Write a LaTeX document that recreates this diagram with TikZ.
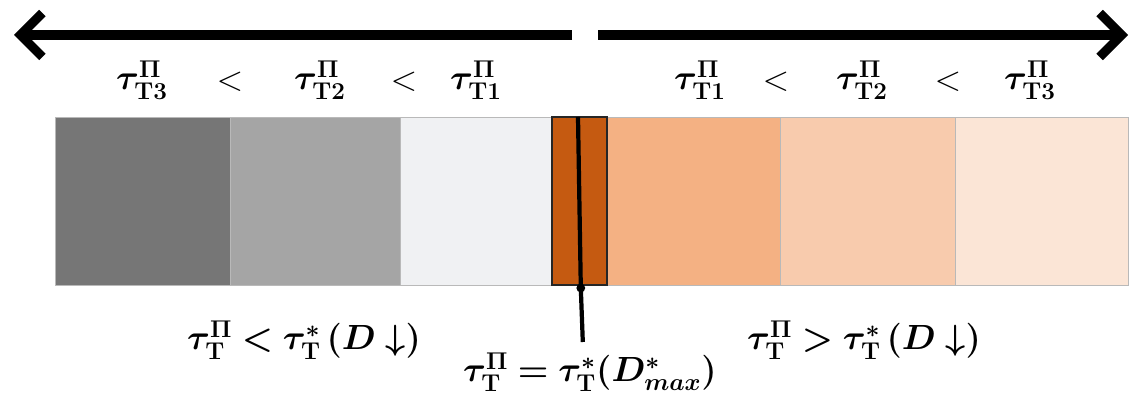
\documentclass[tikz,border=0pt]{standalone}
\usepackage{amsmath,bm}
\usetikzlibrary{arrows.meta}
\definecolor{gThree}{HTML}{767676}
\definecolor{gTwo}{HTML}{A5A5A5}
\definecolor{gOne}{HTML}{F0F1F3}
\definecolor{core}{HTML}{C55A11}
\definecolor{oOne}{HTML}{F4B183}
\definecolor{oTwo}{HTML}{F8CBAD}
\definecolor{oThree}{HTML}{FBE5D6}
\tikzset{
  lbl/.style={font=\fontsize{24}{28}\selectfont, inner sep=0pt},
  cell/.style={draw=gray!55, line width=0.6pt},
  bigarrow/.style={line width=6.5pt, -{Straight Barb[length=0.55cm, width=1.1cm, line width=6.5pt]}}
}
\begin{document}
\begin{tikzpicture}
\useasboundingbox (0,0) rectangle (28.5,-9.85);
% arrows
\coordinate (lstart) at (14.3,-0.875);
\coordinate (lend) at (0.35,-0.875);
\coordinate (rstart) at (14.95,-0.875);
\coordinate (rend) at (28.2,-0.875);
\draw[bigarrow] (lstart) -- (lend);
\draw[bigarrow] (rstart) -- (rend);

% ordering labels
\node[lbl] (l3) at (3.55,-2.0) {$\bm{\tau^{\Pi}_{\mathrm{T}3}}$};
\node[lbl] (lc2) at (5.75,-2.05) {$<$};
\node[lbl] (l2) at (8.0,-2.0) {$\bm{\tau^{\Pi}_{\mathrm{T}2}}$};
\node[lbl] (lc1) at (10.1,-2.05) {$<$};
\node[lbl] (l1) at (11.9,-2.0) {$\bm{\tau^{\Pi}_{\mathrm{T}1}}$};
\node[lbl] (r1) at (17.5,-2.0) {$\bm{\tau^{\Pi}_{\mathrm{T}1}}$};
\node[lbl] (rc1) at (19.4,-2.05) {$<$};
\node[lbl] (r2) at (21.55,-2.0) {$\bm{\tau^{\Pi}_{\mathrm{T}2}}$};
\node[lbl] (rc2) at (23.7,-2.05) {$<$};
\node[lbl] (r3) at (25.75,-2.0) {$\bm{\tau^{\Pi}_{\mathrm{T}3}}$};

% bar
\filldraw[cell, fill=gThree] (1.375,-2.925) rectangle (5.75,-7.125);
\filldraw[cell, fill=gTwo] (5.75,-2.925) rectangle (10.0,-7.125);
\filldraw[cell, fill=gOne] (10.0,-2.925) rectangle (13.8,-7.125);
\filldraw[cell, fill=oOne] (15.175,-2.925) rectangle (19.5,-7.125);
\filldraw[cell, fill=oTwo] (19.5,-2.925) rectangle (23.875,-7.125);
\filldraw[cell, fill=oThree] (23.875,-2.925) rectangle (28.2,-7.125);
\filldraw[draw=black!85, line width=1pt, fill=core] (13.8,-2.925) rectangle (15.175,-7.125);

% optimum marker
\coordinate (mtop) at (14.45,-2.925);
\coordinate (mdot) at (14.52,-7.2);
\coordinate (mbot) at (14.57,-8.55);
\draw[line width=3pt] (mtop) -- (mdot) -- (mbot);
\fill (mdot) circle (0.11);

% bottom labels
\node[lbl] (below) at (7.6,-8.5) {$\bm{\tau^{\Pi}_{\mathrm{T}} < \tau^{*}_{\mathrm{T}}\,(D\downarrow)}$};
\node[lbl] (equal) at (14.75,-9.3) {$\bm{\tau^{\Pi}_{\mathrm{T}} = \tau^{*}_{\mathrm{T}}(D^{*}_{max})}$};
\node[lbl] (above) at (21.6,-8.5) {$\bm{\tau^{\Pi}_{\mathrm{T}} > \tau^{*}_{\mathrm{T}}\,(D\downarrow)}$};
\end{tikzpicture}
\end{document}
